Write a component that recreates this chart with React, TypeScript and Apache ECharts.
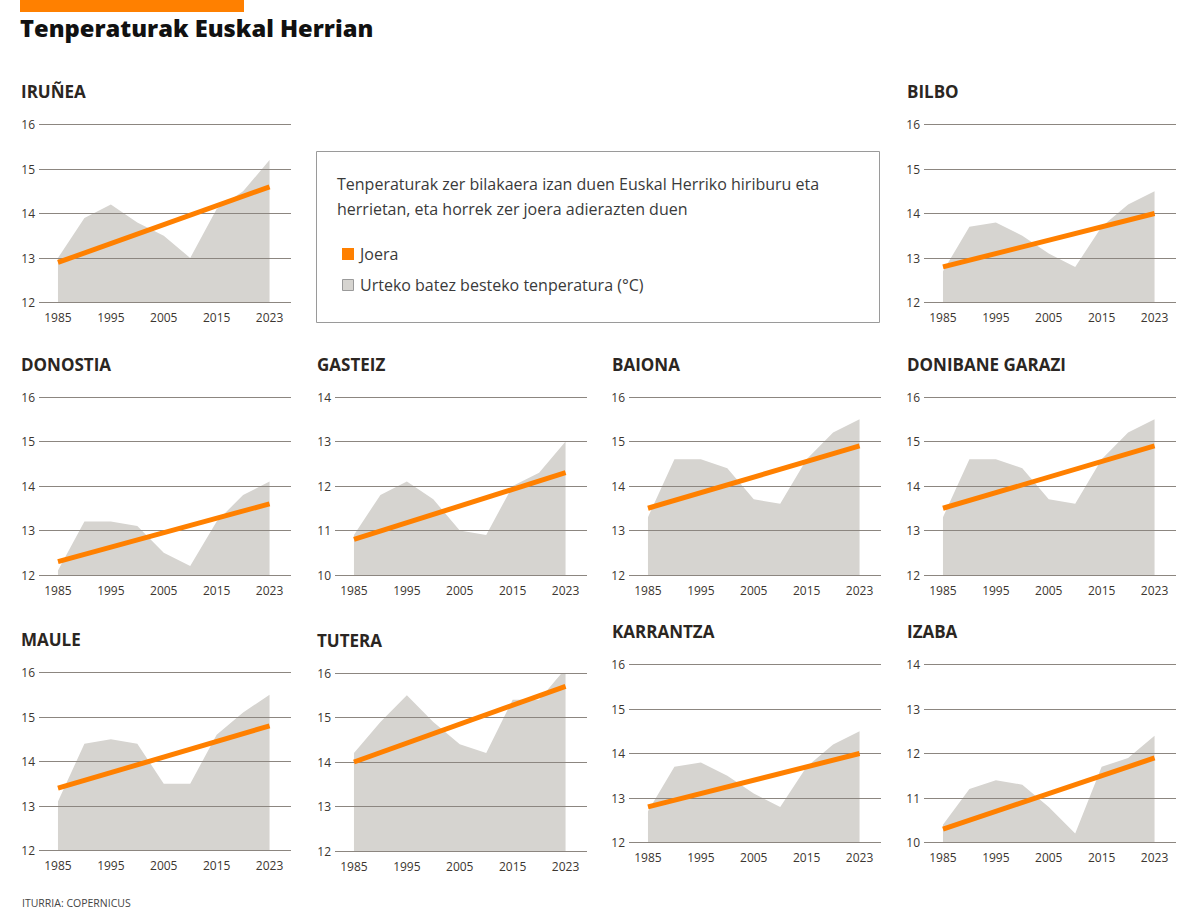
import React, { useEffect, useRef } from 'react';
import * as echarts from 'echarts';

// ---- Data ----
const years = ['1985', '1990', '1995', '2000', '2005', '2010', '2015', '2020', '2023'];
const labelIndexes = [0, 2, 4, 6, 8];

const iruneaTemps = [13.0, 13.9, 14.2, 13.8, 13.5, 13.0, 14.1, 14.5, 15.2];
const iruneaTrend = [12.9, 14.6];
const bilboTemps = [12.7, 13.7, 13.8, 13.5, 13.1, 12.8, 13.7, 14.2, 14.5];
const bilboTrend = [12.8, 14.0];
const donostiaTemps = [12.1, 13.2, 13.2, 13.1, 12.5, 12.2, 13.2, 13.8, 14.1];
const donostiaTrend = [12.3, 13.6];
const gasteizTemps = [10.9, 11.8, 12.1, 11.7, 11.0, 10.9, 12.0, 12.3, 13.0];
const gasteizTrend = [10.8, 12.3];
const baionaTemps = [13.3, 14.6, 14.6, 14.4, 13.7, 13.6, 14.6, 15.2, 15.5];
const baionaTrend = [13.5, 14.9];
const garaziTemps = [13.3, 14.6, 14.6, 14.4, 13.7, 13.6, 14.6, 15.2, 15.5];
const garaziTrend = [13.5, 14.9];
const mauleTemps = [13.1, 14.4, 14.5, 14.4, 13.5, 13.5, 14.6, 15.1, 15.5];
const mauleTrend = [13.4, 14.8];
const tuteraTemps = [14.2, 14.9, 15.5, 14.9, 14.4, 14.2, 15.4, 15.4, 16.1];
const tuteraTrend = [14.0, 15.7];
const karrantzaTemps = [12.7, 13.7, 13.8, 13.5, 13.1, 12.8, 13.7, 14.2, 14.5];
const karrantzaTrend = [12.8, 14.0];
const izabaTemps = [10.4, 11.2, 11.4, 11.3, 10.8, 10.2, 11.7, 11.9, 12.4];
const izabaTrend = [10.3, 11.9];

const rangeHigh = [12, 16];
const rangeLow = [10, 14];

const panels = [
  { name: 'IRUÑEA', temps: iruneaTemps, trend: iruneaTrend, range: rangeHigh },
  { name: 'BILBO', temps: bilboTemps, trend: bilboTrend, range: rangeHigh },
  { name: 'DONOSTIA', temps: donostiaTemps, trend: donostiaTrend, range: rangeHigh },
  { name: 'GASTEIZ', temps: gasteizTemps, trend: gasteizTrend, range: rangeLow },
  { name: 'BAIONA', temps: baionaTemps, trend: baionaTrend, range: rangeHigh },
  { name: 'DONIBANE GARAZI', temps: garaziTemps, trend: garaziTrend, range: rangeHigh },
  { name: 'MAULE', temps: mauleTemps, trend: mauleTrend, range: rangeHigh },
  { name: 'TUTERA', temps: tuteraTemps, trend: tuteraTrend, range: rangeHigh },
  { name: 'KARRANTZA', temps: karrantzaTemps, trend: karrantzaTrend, range: rangeHigh },
  { name: 'IZABA', temps: izabaTemps, trend: izabaTrend, range: rangeLow },
];

// ---- Layout (positions only) ----
const colLeft = [39, 335, 629, 924];
const colTitle = [21, 317, 612, 907];
const layout = [
  { col: 0, top: 124.5, ty: 91 },
  { col: 3, top: 124.5, ty: 91 },
  { col: 0, top: 397, ty: 364 },
  { col: 1, top: 397, ty: 364 },
  { col: 2, top: 397, ty: 364 },
  { col: 3, top: 397, ty: 364 },
  { col: 0, top: 672.5, ty: 639 },
  { col: 1, top: 673, ty: 640 },
  { col: 2, top: 664.5, ty: 631 },
  { col: 3, top: 664.5, ty: 631 },
];

const ORANGE = '#ff8000';
const AREA = '#d6d4d0';
const GRIDC = '#8c8680';
const TEXTC = '#3c3630';
const FONT = 'Open Sans';

export default function App() {
  const ref = useRef<HTMLDivElement>(null);
  useEffect(() => {
    if (!ref.current) return;
    const chart = echarts.init(ref.current, undefined, { renderer: 'svg' });

    const grid: any[] = [];
    const xAxis: any[] = [];
    const yAxis: any[] = [];
    const series: any[] = [];
    const graphic: any[] = [];

    panels.forEach((p, i) => {
      const l = layout[i];
      grid.push({ left: colLeft[l.col], top: l.top, width: 252, height: 178 });
      xAxis.push({
        gridIndex: i,
        type: 'value',
        min: -0.717,
        max: 8.811,
        axisLine: { show: false },
        axisTick: { show: false },
        splitLine: { show: false },
        axisLabel: {
          customValues: labelIndexes,
          formatter: (v: number) => years[Math.round(v)] ?? '',
          margin: 9,
          fontSize: 12,
          color: TEXTC,
          fontFamily: FONT,
        },
      });
      yAxis.push({
        gridIndex: i,
        type: 'value',
        min: p.range[0],
        max: p.range[1],
        interval: 1,
        z: 3,
        axisLine: { show: false },
        axisTick: { show: false },
        splitLine: { lineStyle: { color: GRIDC, width: 1 } },
        axisLabel: { margin: 4, fontSize: 12, color: TEXTC, fontFamily: FONT },
      });
      series.push({
        type: 'line',
        xAxisIndex: i,
        yAxisIndex: i,
        data: p.temps.map((v, k) => [k, v]),
        symbol: 'none',
        lineStyle: { width: 0 },
        areaStyle: { color: AREA, opacity: 1, origin: 'start' },
        z: 1,
        silent: true,
      });
      series.push({
        type: 'line',
        xAxisIndex: i,
        yAxisIndex: i,
        data: [
          [0, p.trend[0]],
          [p.temps.length - 1, p.trend[1]],
        ],
        symbol: 'none',
        lineStyle: { color: ORANGE, width: 5, cap: 'butt' },
        z: 5,
        silent: true,
      });
      graphic.push({
        type: 'text',
        x: colTitle[l.col],
        y: l.ty,
        style: {
          text: p.name,
          font: `bold 17px "${FONT}"`,
          fill: '#2b2622',
          verticalAlign: 'middle',
          textVerticalAlign: 'middle',
        },
      });
    });

    // top bar and title
    graphic.push({ type: 'rect', shape: { x: 20, y: 0, width: 224, height: 12 }, style: { fill: ORANGE } });
    graphic.push({
      type: 'text',
      x: 20,
      y: 28,
      style: {
        text: 'Tenperaturak Euskal Herrian',
        font: `800 23.7px "${FONT}"`,
        fill: '#111111',
        verticalAlign: 'middle',
        textVerticalAlign: 'middle',
      },
    });

    // legend box
    graphic.push({
      type: 'rect',
      shape: { x: 316.5, y: 151.5, width: 563, height: 171 },
      style: { fill: '#ffffff', stroke: '#9a9a9a', lineWidth: 1 },
      z: 0,
    });
    const descLines = [
      'Tenperaturak zer bilakaera izan duen Euskal Herriko hiriburu eta',
      'herrietan, eta horrek zer joera adierazten duen',
    ];
    descLines.forEach((t, k) => {
      graphic.push({
        type: 'text',
        x: 337,
        y: 184 + k * 25,
        style: { text: t, font: `16px "${FONT}"`, fill: '#3a3a3a', verticalAlign: 'middle', textVerticalAlign: 'middle' },
      });
    });
    graphic.push({ type: 'rect', shape: { x: 342, y: 248, width: 12, height: 12 }, style: { fill: ORANGE } });
    graphic.push({
      type: 'text',
      x: 360,
      y: 254,
      style: { text: 'Joera', font: `16px "${FONT}"`, fill: '#3a3a3a', verticalAlign: 'middle', textVerticalAlign: 'middle' },
    });
    graphic.push({
      type: 'rect',
      shape: { x: 342.5, y: 279.5, width: 11, height: 11 },
      style: { fill: AREA, stroke: '#9a9a9a', lineWidth: 1 },
    });
    graphic.push({
      type: 'text',
      x: 360,
      y: 285,
      style: {
        text: 'Urteko batez besteko tenperatura (°C)',
        font: `16px "${FONT}"`,
        fill: '#3a3a3a',
        verticalAlign: 'middle',
        textVerticalAlign: 'middle',
      },
    });

    // footer
    graphic.push({
      type: 'text',
      x: 22,
      y: 903,
      style: { text: 'ITURRIA: COPERNICUS', font: `10.5px "${FONT}"`, fill: '#444444', verticalAlign: 'middle', textVerticalAlign: 'middle' },
    });

    chart.setOption({
      animation: false,
      textStyle: { fontFamily: FONT },
      grid,
      xAxis,
      yAxis,
      series,
      graphic,
    });
    return () => chart.dispose();
  }, []);

  return (
    <div
      ref={ref}
      style={{ position: 'absolute', left: 0, top: 0, width: 1200, height: 920, background: '#ffffff' }}
    />
  );
}
